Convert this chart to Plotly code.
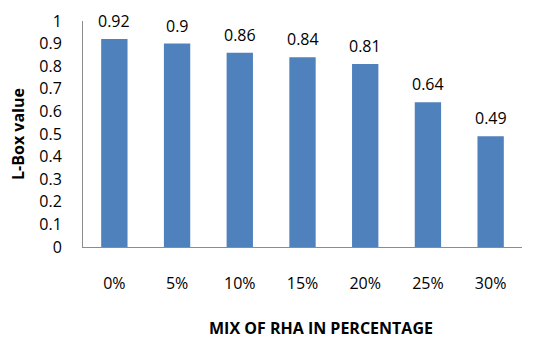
import plotly.graph_objects as go

categories = ["0%", "5%", "10%", "15%", "20%", "25%", "30%"]
values = [0.92, 0.9, 0.86, 0.84, 0.81, 0.64, 0.49]
labels = ["0.92", "0.9", "0.86", "0.84", "0.81", "0.64", "0.49"]

FONT = "Open Sans"

fig = go.Figure(go.Bar(
    x=categories, y=values,
    marker=dict(color="#4F81BD", line=dict(width=0)),
    width=0.42,
))

for c, v, t in zip(categories, values, labels):
    fig.add_annotation(x=c, y=v, text=t, showarrow=False, yanchor="bottom",
                       yshift=5, font=dict(family=FONT, size=16, color="#000000"))

fig.add_annotation(xref="paper", yref="paper", x=0.542, y=-0.36,
                   text="<b>MIX OF RHA IN PERCENTAGE</b>", showarrow=False,
                   xanchor="center", yanchor="middle",
                   font=dict(family=FONT, size=16, color="#000000"))

fig.update_layout(
    width=542, height=350,
    margin=dict(l=83, r=20, t=10, b=103),
    paper_bgcolor="white", plot_bgcolor="white",
    font=dict(family=FONT, size=16, color="#000000"),
    showlegend=False,
    xaxis=dict(
        showline=True, linecolor="#8c8c8c", linewidth=1,
        ticks="", ticklabelstandoff=22,
        tickfont=dict(family=FONT, size=16),
    ),
    yaxis=dict(
        range=[0, 1], showgrid=False, zeroline=False,
        showline=True, linecolor="#8c8c8c", linewidth=1,
        ticks="", ticklabelstandoff=17, ticklabeloverflow="allow",
        tickvals=[0, 0.1, 0.2, 0.3, 0.4, 0.5, 0.6, 0.7, 0.8, 0.9, 1],
        ticktext=["0", "0.1", "0.2", "0.3", "0.4", "0.5", "0.6", "0.7", "0.8", "0.9", "1"],
        tickfont=dict(family=FONT, size=16),
        title=dict(text="<b>L-Box value</b>", standoff=10,
                   font=dict(family=FONT, size=16)),
    ),
)
fig.write_html("out.html")
